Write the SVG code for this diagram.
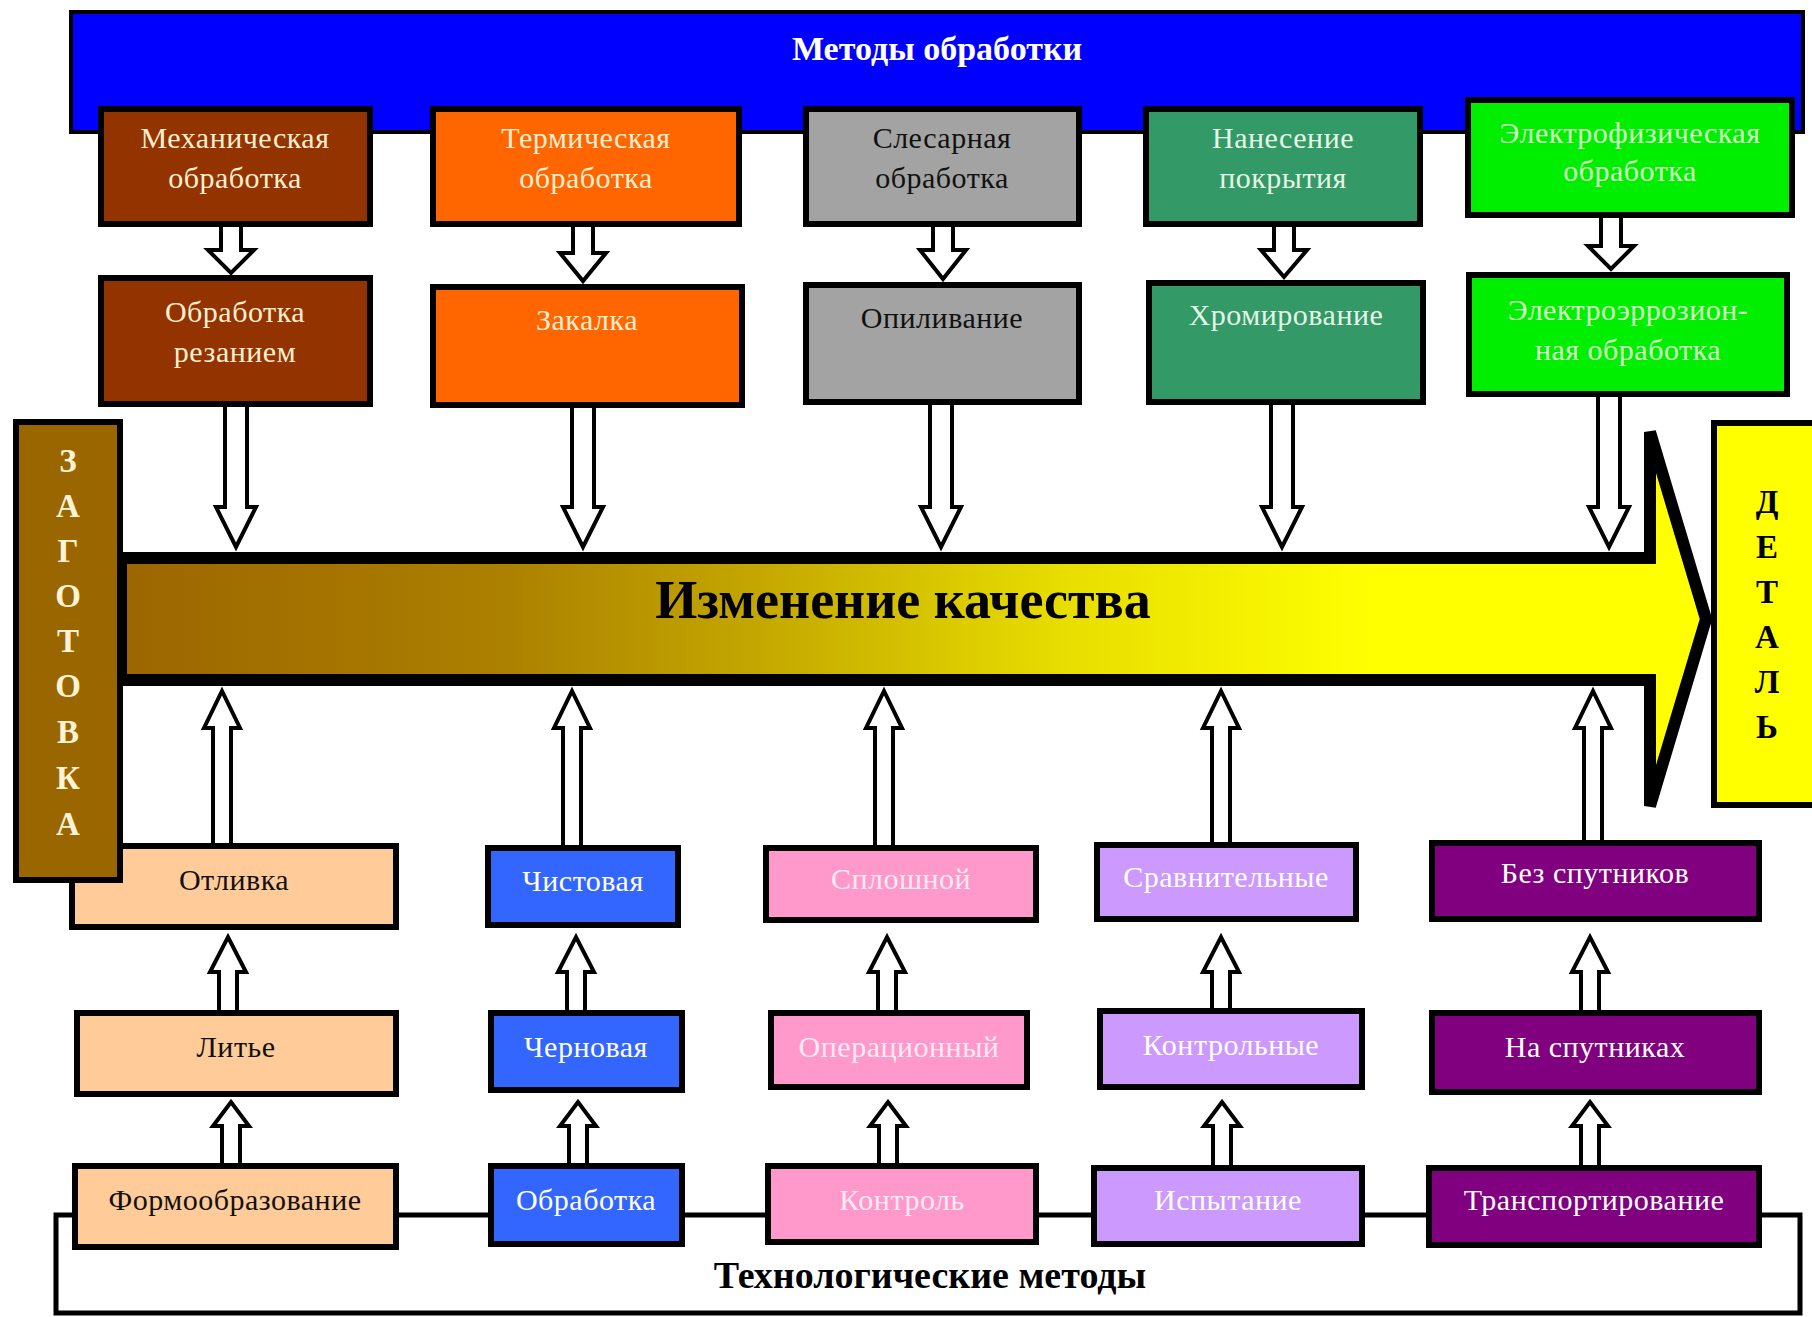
<svg xmlns="http://www.w3.org/2000/svg" width="1812" height="1317" viewBox="0 0 1812 1317">
<defs>
<linearGradient id="qual" gradientUnits="userSpaceOnUse" x1="121" y1="0" x2="1650" y2="0">
<stop offset="0" stop-color="#9C6600"/>
<stop offset="0.25" stop-color="#AC8000"/>
<stop offset="0.42" stop-color="#C4A800"/>
<stop offset="0.62" stop-color="#E8DE00"/>
<stop offset="0.82" stop-color="#FFFF00"/>
<stop offset="1" stop-color="#FFFF00"/>
</linearGradient>
</defs>
<style>
.box{stroke:#000;stroke-width:6}
.arr{fill:#fff;stroke:#000;stroke-width:4;stroke-linejoin:miter}
.t{font-family:"Liberation Serif","Times New Roman",serif;font-size:30px;text-anchor:middle;letter-spacing:0.5px}
.b{font-family:"Liberation Serif","Times New Roman",serif;font-weight:bold;text-anchor:middle}
.cream{fill:#FFEFD2}
.dark{fill:#111}
.white{fill:#fff}
.pale{fill:#E6F6E6}
.lime{fill:#D6FFC6}
.pinkt{fill:#FFEAF4}
</style>
<rect width="1812" height="1317" fill="#fff"/>

<g id="methods-header">
<rect x="71" y="12" width="1732" height="120" fill="#0000FF" stroke="#000" stroke-width="4"/>
<text class="b" x="937" y="60" font-size="34" fill="#fff">Методы обработки</text>
</g>

<g id="tech-bracket">
<path d="M56 1215 H1800 V1313 H56 Z" fill="none" stroke="#000" stroke-width="5"/>
<text class="b" x="930" y="1288" font-size="38" fill="#000">Технологические методы</text>
</g>

<g id="connectors">
<path class="arr" d="M221 220 V250 H208 L231 273 L254 250 H241 V220 Z"/>
<path class="arr" d="M573 220 V253 H560 L583 281 L606 253 H593 V220 Z"/>
<path class="arr" d="M933 220 V250 H920 L943 279 L966 250 H953 V220 Z"/>
<path class="arr" d="M1274 220 V250 H1261 L1284 277 L1307 250 H1294 V220 Z"/>
<path class="arr" d="M1601 212 V246 H1588 L1611 269 L1634 246 H1621 V212 Z"/>

<path class="arr" d="M225 400 V507 H216 L236 547 L256 507 H247 V400 Z"/>
<path class="arr" d="M572 400 V507 H563 L583 547 L603 507 H594 V400 Z"/>
<path class="arr" d="M930 398 V507 H921 L941 547 L961 507 H952 V398 Z"/>
<path class="arr" d="M1271 398 V507 H1262 L1282 547 L1302 507 H1293 V398 Z"/>
<path class="arr" d="M1598 390 V507 H1589 L1609 547 L1629 507 H1620 V390 Z"/>

<path class="arr" d="M213 850 V728 H204 L222 691 L240 728 H231 V850 Z"/>
<path class="arr" d="M563 850 V728 H554 L572 691 L590 728 H581 V850 Z"/>
<path class="arr" d="M875 850 V728 H866 L884 691 L902 728 H893 V850 Z"/>
<path class="arr" d="M1212 850 V728 H1203 L1221 691 L1239 728 H1230 V850 Z"/>
<path class="arr" d="M1584 850 V728 H1575 L1593 691 L1611 728 H1602 V850 Z"/>

<path class="arr" d="M219 1015 V972 H210 L228 937 L246 972 H237 V1015 Z"/>
<path class="arr" d="M567 1015 V972 H558 L576 937 L594 972 H585 V1015 Z"/>
<path class="arr" d="M878 1015 V972 H869 L887 937 L905 972 H896 V1015 Z"/>
<path class="arr" d="M1212 1015 V972 H1203 L1221 937 L1239 972 H1230 V1015 Z"/>
<path class="arr" d="M1581 1015 V972 H1572 L1590 937 L1608 972 H1599 V1015 Z"/>

<path class="arr" d="M222 1168 V1126 H213 L231 1102 L249 1126 H240 V1168 Z"/>
<path class="arr" d="M569 1168 V1126 H560 L578 1102 L596 1126 H587 V1168 Z"/>
<path class="arr" d="M879 1168 V1126 H870 L888 1102 L906 1126 H897 V1168 Z"/>
<path class="arr" d="M1213 1168 V1126 H1204 L1222 1102 L1240 1126 H1231 V1168 Z"/>
<path class="arr" d="M1581 1168 V1126 H1572 L1590 1102 L1608 1126 H1599 V1168 Z"/>
</g>

<g id="quality-arrow">
<path d="M121 558 H1650 V432 L1706 619 L1650 806 V680 H121 Z" fill="url(#qual)" stroke="#000" stroke-width="12" stroke-linejoin="miter" stroke-miterlimit="6"/>
<text class="b" x="903" y="618" font-size="54" fill="#000">Изменение качества</text>
</g>

<g id="mech">
<rect class="box" x="101" y="109" width="269" height="115" fill="#933300"/>
<text class="t cream" x="235" y="148">Механическая</text>
<text class="t cream" x="235" y="188">обработка</text>
</g>
<g id="term">
<rect class="box" x="433" y="109" width="306" height="115" fill="#FF6600"/>
<text class="t cream" x="586" y="148">Термическая</text>
<text class="t cream" x="586" y="188">обработка</text>
</g>
<g id="sles">
<rect class="box" x="806" y="109" width="273" height="115" fill="#A3A3A3"/>
<text class="t dark" x="942" y="148">Слесарная</text>
<text class="t dark" x="942" y="188">обработка</text>
</g>
<g id="nanes">
<rect class="box" x="1146" y="109" width="274" height="115" fill="#339966"/>
<text class="t pale" x="1283" y="148">Нанесение</text>
<text class="t pale" x="1283" y="188">покрытия</text>
</g>
<g id="elfiz">
<rect class="box" x="1468" y="100" width="324" height="115" fill="#00EE00"/>
<text class="t lime" x="1630" y="143">Электрофизическая</text>
<text class="t lime" x="1630" y="181">обработка</text>
</g>

<g id="rezanie">
<rect class="box" x="101" y="278" width="269" height="126" fill="#933300"/>
<text class="t cream" x="235" y="322">Обработка</text>
<text class="t cream" x="235" y="362">резанием</text>
</g>
<g id="zakalka">
<rect class="box" x="433" y="287" width="309" height="118" fill="#FF6600"/>
<text class="t cream" x="587" y="330">Закалка</text>
</g>
<g id="opil">
<rect class="box" x="806" y="285" width="273" height="117" fill="#A3A3A3"/>
<text class="t dark" x="942" y="328">Опиливание</text>
</g>
<g id="hrom">
<rect class="box" x="1149" y="283" width="274" height="119" fill="#339966"/>
<text class="t pale" x="1286" y="325">Хромирование</text>
</g>
<g id="eroz">
<rect class="box" x="1469" y="275" width="318" height="119" fill="#00EE00"/>
<text class="t lime" x="1628" y="320">Электроэррозион-</text>
<text class="t lime" x="1628" y="360">ная обработка</text>
</g>

<g id="otlivka">
<rect class="box" x="72" y="846" width="324" height="81" fill="#FFCC99"/>
<text class="t dark" x="234" y="890">Отливка</text>
</g>
<g id="chist">
<rect class="box" x="488" y="848" width="190" height="77" fill="#3366FF"/>
<text class="t white" x="583" y="891">Чистовая</text>
</g>
<g id="splosh">
<rect class="box" x="766" y="848" width="270" height="72" fill="#FF99CC"/>
<text class="t pinkt" x="901" y="889">Сплошной</text>
</g>
<g id="sravn">
<rect class="box" x="1097" y="845" width="259" height="74" fill="#CC99FF"/>
<text class="t white" x="1226" y="887">Сравнительные</text>
</g>
<g id="bezsp">
<rect class="box" x="1432" y="843" width="327" height="76" fill="#800080"/>
<text class="t white" x="1595" y="883">Без спутников</text>
</g>

<g id="lite">
<rect class="box" x="77" y="1013" width="319" height="81" fill="#FFCC99"/>
<text class="t dark" x="236" y="1057">Литье</text>
</g>
<g id="chern">
<rect class="box" x="491" y="1013" width="191" height="77" fill="#3366FF"/>
<text class="t white" x="586" y="1057">Черновая</text>
</g>
<g id="oper">
<rect class="box" x="771" y="1013" width="256" height="74" fill="#FF99CC"/>
<text class="t pinkt" x="899" y="1057">Операционный</text>
</g>
<g id="kontrolnye">
<rect class="box" x="1100" y="1011" width="262" height="76" fill="#CC99FF"/>
<text class="t white" x="1231" y="1055">Контрольные</text>
</g>
<g id="nasp">
<rect class="box" x="1432" y="1013" width="327" height="79" fill="#800080"/>
<text class="t white" x="1595" y="1057">На спутниках</text>
</g>

<g id="formoobr">
<rect class="box" x="75" y="1166" width="321" height="81" fill="#FFCC99"/>
<text class="t dark" x="235" y="1210">Формообразование</text>
</g>
<g id="obrabotka">
<rect class="box" x="491" y="1166" width="191" height="78" fill="#3366FF"/>
<text class="t white" x="586" y="1210">Обработка</text>
</g>
<g id="kontrol">
<rect class="box" x="768" y="1166" width="268" height="76" fill="#FF99CC"/>
<text class="t pinkt" x="902" y="1210">Контроль</text>
</g>
<g id="ispyt">
<rect class="box" x="1094" y="1168" width="268" height="76" fill="#CC99FF"/>
<text class="t white" x="1228" y="1210">Испытание</text>
</g>
<g id="transp">
<rect class="box" x="1429" y="1168" width="330" height="77" fill="#800080"/>
<text class="t white" x="1594" y="1210">Транспортирование</text>
</g>

<g id="zagotovka">
<rect class="box" x="16" y="422" width="104" height="458" fill="#996600"/>
<g class="b" font-size="33" fill="#FFF3D6">
<text x="68" y="472">З</text>
<text x="68" y="517">А</text>
<text x="68" y="562">Г</text>
<text x="68" y="607">О</text>
<text x="68" y="652">Т</text>
<text x="68" y="697">О</text>
<text x="68" y="743">В</text>
<text x="68" y="789">К</text>
<text x="68" y="835">А</text>
</g>
</g>

<g id="detal">
<rect class="box" x="1714" y="423" width="110" height="382" fill="#FFFF00"/>
<g class="b" font-size="33" fill="#000">
<text x="1767" y="513">Д</text>
<text x="1767" y="558">Е</text>
<text x="1767" y="603">Т</text>
<text x="1767" y="648">А</text>
<text x="1767" y="693">Л</text>
<text x="1767" y="738">Ь</text>
</g>
</g>
</svg>
